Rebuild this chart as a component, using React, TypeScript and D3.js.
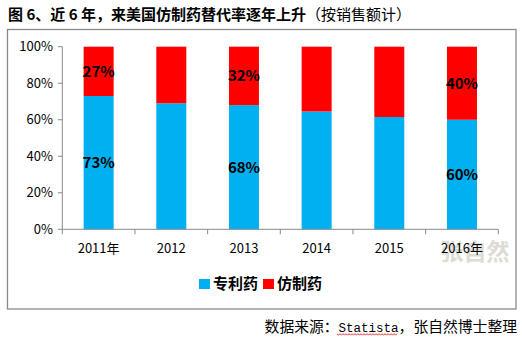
import React from "react";
import * as d3 from "d3";

const years = ["2011年", "2012", "2013", "2014", "2015", "2016年"];
const patentShare = [73, 69, 68, 64.5, 61.5, 60];
const genericShare = [27, 31, 32, 35.5, 38.5, 40];
const patentLabels = ["73%", "", "68%", "", "", "60%"];
const genericLabels = ["27%", "", "32%", "", "", "40%"];
const yTicks = [0, 20, 40, 60, 80, 100];
const seriesNames = ["专利药", "仿制药"];

const BLUE = "#00b0f0";
const RED = "#ff0000";
const CJK = "'Noto Sans CJK SC', 'Noto Sans', sans-serif";

export default function App() {
  const W = 522, H = 337;
  const x0 = 62.3, x1 = 498.3, yTop = 46.7, yBot = 229.3;
  const x = d3.scaleBand<string>().domain(years).range([x0, x1]).paddingInner(0).paddingOuter(0);
  const y = d3.scaleLinear().domain([0, 100]).range([yBot, yTop]);
  const barW = 30;
  const stack = d3.stack<any>().keys(["p", "g"])(years.map((yr, i) => ({ yr, p: patentShare[i], g: genericShare[i] })));
  const colors = [BLUE, RED];
  const labels = [patentLabels, genericLabels];
  const boundaries = d3.range(years.length + 1).map((i) => x0 + i * x.bandwidth());

  const wavyStart = 337, wavyEnd = 397, wavyY = 334;
  let wavy = `M${wavyStart},${wavyY}`;
  for (let xx = wavyStart, k = 0; xx < wavyEnd; xx += 1.5, k++) {
    wavy += ` L${xx + 1.5},${wavyY + (k % 2 === 0 ? 1.2 : -0.3)}`;
  }

  return (
    <svg width={W} height={H} style={{ position: "absolute", left: 0, top: 0, background: "#fff" }}>
      <text x={8} y={20} fontFamily={CJK} fontSize={15} fill="#000">
        <tspan fontWeight="bold">图 6、近 6 年，来美国仿制药替代率逐年上升</tspan>
        <tspan>（按销售额计）</tspan>
      </text>
      <rect x={7.5} y={29.5} width={508.5} height={279.5} fill="#fff" stroke="#8a8a8a" strokeWidth={1.3} />

      <text x={475} y={260} textAnchor="middle" fontFamily={CJK} fontSize={23} fontWeight="bold" fill="#dcdcd4">张自然</text>

      {stack.map((s, si) =>
        s.map((d, i) => (
          <rect key={`${si}-${i}`} x={(x(years[i]) as number) + x.bandwidth() / 2 - barW / 2} y={y(d[1])}
            width={barW} height={y(d[0]) - y(d[1])} fill={colors[si]} />
        ))
      )}
      {stack.map((s, si) =>
        s.map((d, i) =>
          labels[si][i] ? (
            <text key={`l${si}-${i}`} x={(x(years[i]) as number) + x.bandwidth() / 2} y={(y(d[0]) + y(d[1])) / 2 + 5.5}
              textAnchor="middle" fontFamily={CJK} fontSize={15} fontWeight="bold" fill="#000">{labels[si][i]}</text>
          ) : null
        )
      )}

      <line x1={x0} x2={x0} y1={yTop} y2={yBot} stroke="#8a8a8a" strokeWidth={1} />
      {yTicks.map((t) => (
        <g key={t}>
          <line x1={x0 - 4.5} x2={x0} y1={y(t)} y2={y(t)} stroke="#8a8a8a" strokeWidth={1} />
          <text x={53} y={y(t) + 4.5} textAnchor="end" fontFamily={CJK} fontSize={13} fill="#000">{t}%</text>
        </g>
      ))}
      <line x1={x0} x2={x1} y1={yBot} y2={yBot} stroke="#8a8a8a" strokeWidth={1} />
      {boundaries.map((b, i) => (
        <line key={i} x1={b} x2={b} y1={yBot} y2={yBot + 5} stroke="#8a8a8a" strokeWidth={1} />
      ))}
      {years.map((yr) => (
        <text key={yr} x={(x(yr) as number) + x.bandwidth() / 2} y={253} textAnchor="middle"
          fontFamily={CJK} fontSize={13} fill="#000">{yr}</text>
      ))}

      {seriesNames.map((n, i) => {
        const lx = i === 0 ? 199 : 263;
        return (
          <g key={n}>
            <rect x={lx} y={279} width={11} height={10} fill={colors[i]} />
            <text x={lx + 14} y={289} fontFamily={CJK} fontSize={15} fontWeight="bold" fill="#000">{n}</text>
          </g>
        );
      })}

      <text x={517} y={332} textAnchor="end" fontFamily={CJK} fontSize={14.8} fill="#000">
        数据来源：<tspan fontFamily="'Liberation Mono', 'DejaVu Sans Mono', monospace" fontSize={12.5}>Statista</tspan>，张自然博士整理
      </text>
      <path d={wavy} fill="none" stroke="#e00000" strokeWidth={0.8} />
    </svg>
  );
}
